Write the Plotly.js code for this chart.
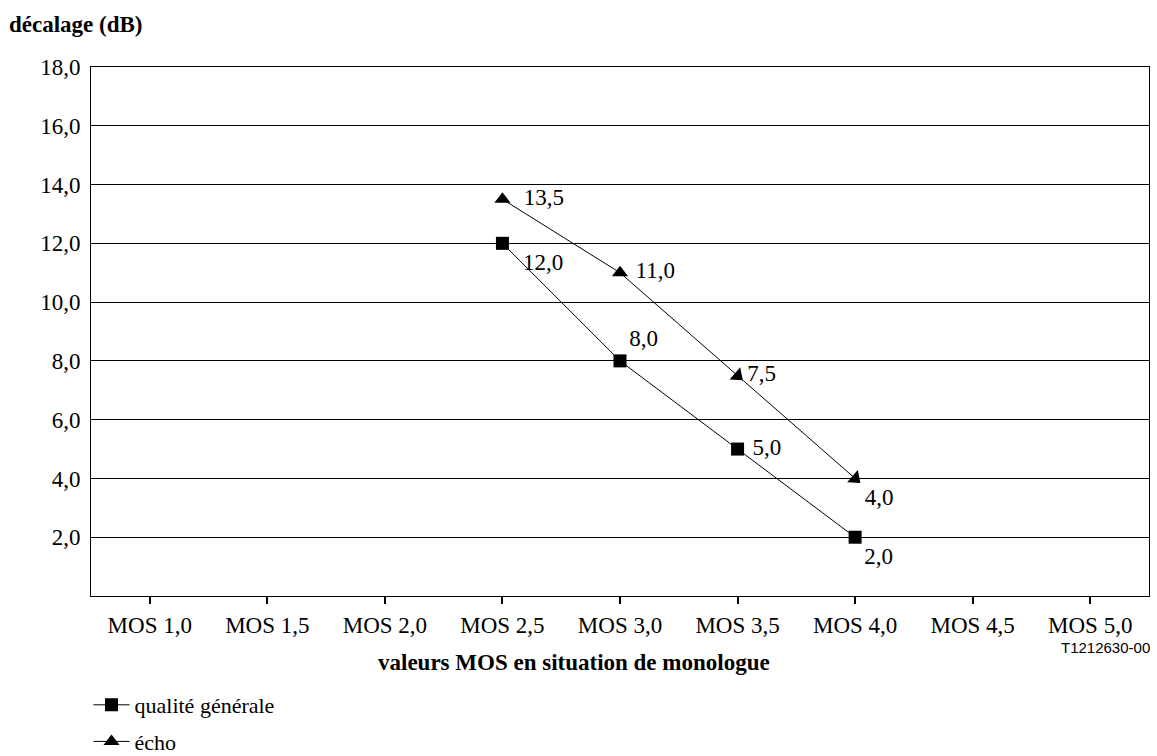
<!DOCTYPE html>
<html>
<head>
<meta charset="utf-8">
<script src="https://cdn.plot.ly/plotly-3.0.1.min.js"></script>
<style>html,body{margin:0;padding:0;background:#fff;}#chart{width:1157px;height:756px;}</style>
</head>
<body>
<div id="chart"></div>
<script>
const categories = ['MOS 1,0','MOS 1,5','MOS 2,0','MOS 2,5','MOS 3,0','MOS 3,5','MOS 4,0','MOS 4,5','MOS 5,0'];
const qualiteX = ['MOS 2,5','MOS 3,0','MOS 3,5','MOS 4,0'];
const qualiteY = [12.0, 8.0, 5.0, 2.0];
const echoX = ['MOS 2,5','MOS 3,0','MOS 3,5','MOS 4,0'];
const echoY = [13.5, 11.0, 7.5, 4.0];
const echoMarkerAngle = [0, 0, 131, 131];
const yTicks = [2, 4, 6, 8, 10, 12, 14, 16, 18];
const yTitle = 'décalage (dB)';
const xTitle = 'valeurs MOS en situation de monologue';
const code = 'T1212630-00';

const serif = 'Liberation Serif';
const fs = 23;
const sp = '\u00a0';

const traces = [
  {
    x: qualiteX, y: qualiteY, name: 'qualité générale', type: 'scatter', mode: 'lines+markers+text',
    line: {color: '#000', width: 1},
    marker: {symbol: 'square', size: 13, color: '#000'},
    texttemplate: [sp + sp + '%{y:.1f}', '%{y:.1f}', sp + '%{y:.1f}', '%{y:.1f}'],
    textposition: ['bottom right','top right','middle right','bottom right'],
    textfont: {family: serif, size: fs, color: '#000'},
    cliponaxis: false, legendgroup: 'a'
  },
  {
    x: echoX, y: echoY, name: 'écho', type: 'scatter', mode: 'lines+markers+text',
    line: {color: '#000', width: 1},
    marker: {symbol: 'triangle-up', size: 14, color: '#000', angle: echoMarkerAngle},
    texttemplate: [sp + sp + '%{y:.1f}', sp + '%{y:.1f}', '%{y:.1f}', '%{y:.1f}'],
    textposition: ['middle right','middle right','middle right','bottom right'],
    textfont: {family: serif, size: fs, color: '#000'},
    cliponaxis: false, legendgroup: 'b'
  }
];

const layout = {
  width: 1157, height: 756,
  margin: {l: 91, r: 8, t: 67, b: 160, autoexpand: false},
  paper_bgcolor: '#fff', plot_bgcolor: '#fff',
  separators: ', ',
  font: {family: serif, size: fs, color: '#000'},
  showlegend: true,
  legend: {
    xref: 'container', yref: 'container', x: 0.0765, y: 1 - 684/756,
    xanchor: 'left', yanchor: 'top', itemwidth: 36,
    traceorder: 'grouped', tracegroupgap: 5,
    font: {family: serif, size: 22, color: '#000'},
    bgcolor: 'rgba(0,0,0,0)'
  },
  xaxis: {
    type: 'category', categoryorder: 'array', categoryarray: categories,
    range: [-0.5, 8.5],
    showline: true, linecolor: '#000', linewidth: 1, mirror: true,
    showgrid: false, zeroline: false,
    ticks: 'outside', ticklen: 7, tickwidth: 2, tickcolor: '#000',
    ticklabelstandoff: 1,
    tickfont: {family: serif, size: fs, color: '#000'},
    fixedrange: true
  },
  xaxis2: {
    overlaying: 'x', anchor: 'y', side: 'bottom',
    range: [-0.5, 8.5], tick0: 0.5, dtick: 1,
    ticks: 'inside', ticklen: 6, tickwidth: 2, tickcolor: '#000',
    showticklabels: false, showgrid: false, zeroline: false, showline: false
  },
  yaxis: {
    range: [0, 18], tickmode: 'array', tickvals: yTicks, tickformat: '.1f',
    showline: true, linecolor: '#000', linewidth: 1, mirror: true,
    showgrid: true, gridcolor: '#000', gridwidth: 1,
    zeroline: false, ticks: '', ticklabelstandoff: 5,
    tickfont: {family: serif, size: fs, color: '#000'},
    fixedrange: true
  },
  annotations: [
    {text: '<b>' + yTitle + '</b>', xref: 'paper', yref: 'paper', x: 0, y: 1, xshift: -84, yshift: 43,
     xanchor: 'left', yanchor: 'middle', showarrow: false, font: {family: serif, size: fs, color: '#000'}},
    {text: '<b>' + xTitle + '</b>', xref: 'paper', yref: 'paper', x: 0.5, xshift: -46, y: 0, yshift: -66,
     xanchor: 'center', yanchor: 'middle', showarrow: false, font: {family: serif, size: fs, color: '#000'}},
    {text: code, xref: 'paper', yref: 'paper', x: 1, xshift: 3, y: 0, yshift: -51, xanchor: 'right', yanchor: 'middle',
     showarrow: false, font: {family: 'Liberation Sans', size: 15, color: '#000'}}
  ]
};

Plotly.newPlot('chart', traces, layout, {displayModeBar: false, staticPlot: true});
</script>
</body>
</html>
